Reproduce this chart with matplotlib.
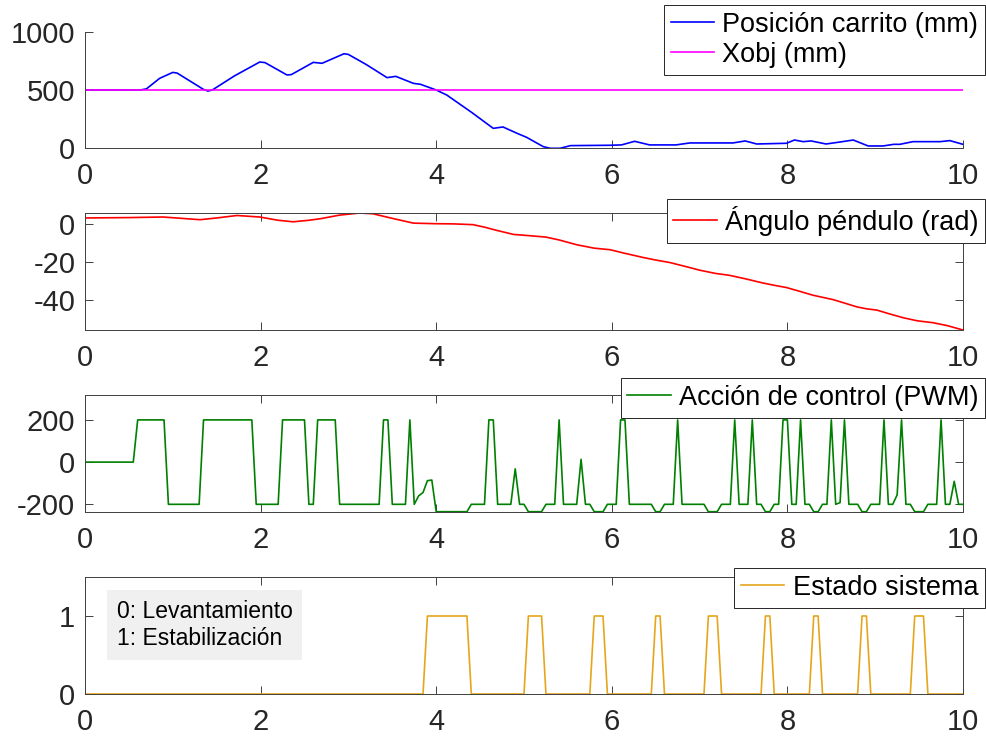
import matplotlib.pyplot as plt

plt.rcParams['font.family'] = ['Liberation Sans', 'DejaVu Sans']
plt.rcParams['axes.unicode_minus'] = False

# Cart position (mm)
t_pos = [0, 0.63, 0.7, 0.85, 1.0, 1.05, 1.2, 1.35, 1.4, 1.45, 1.7, 1.99, 2.05, 2.30, 2.35,
         2.60, 2.70, 2.95, 3.0, 3.2, 3.44, 3.54, 3.74, 3.82, 4.0, 4.12, 4.4, 4.65, 4.76,
         4.92, 5.03, 5.22, 5.30, 5.41, 5.53, 5.98, 6.11, 6.26, 6.43, 6.73, 6.89, 7.38,
         7.52, 7.65, 7.99, 8.08, 8.18, 8.27, 8.44, 8.60, 8.75, 8.92, 9.09, 9.21, 9.28,
         9.43, 9.74, 9.85, 10.0]
pos = [500, 500, 510, 600, 651, 645, 575, 505, 491, 500, 620, 740, 735, 629, 632,
       737, 729, 811, 805, 720, 606, 617, 557, 549, 500, 457, 310, 171, 183,
       129, 94, 14, 0, 0, 23, 26, 29, 60, 29, 29, 46, 46,
       63, 37, 43, 71, 57, 63, 37, 54, 71, 20, 20, 34, 34,
       57, 57, 66, 34]
x_obj = 500

# Pendulum angle (rad)
t_ang = [0, 0.5, 0.89, 1.1, 1.31, 1.5, 1.73, 1.99, 2.2, 2.37, 2.55, 2.68, 2.9, 3.13, 3.28,
         3.5, 3.74, 4.0, 4.2, 4.42, 4.55, 4.69, 4.88, 5.07, 5.25, 5.40, 5.60, 5.80, 5.98,
         6.15, 6.36, 6.50, 6.66, 6.85, 7.0, 7.18, 7.34, 7.52, 7.72, 7.86, 7.99, 8.15,
         8.29, 8.40, 8.52, 8.65, 8.79, 8.90, 9.02, 9.15, 9.32, 9.48, 9.66, 9.82, 10.0]
ang = [3.0, 3.2, 3.5, 2.8, 2.1, 3.0, 4.3, 3.5, 1.8, 1.0, 1.8, 2.6, 4.5, 5.6, 5.2,
       2.8, 0.3, 0.0, -0.1, -0.5, -1.8, -3.5, -5.6, -6.3, -7.0, -8.5, -11.0, -12.8, -13.6,
       -15.5, -17.7, -19.0, -20.3, -22.5, -24.3, -26.0, -27.0, -28.8, -31.0, -32.3, -33.4, -35.5,
       -37.4, -38.5, -39.7, -41.5, -43.5, -44.5, -45.2, -47.0, -49.2, -50.8, -51.8, -53.3, -55.6]

# Control action (PWM), 14 samples per row
t_pwm = [0, 0.55, 0.60, 0.90, 0.95, 1.30, 1.35, 1.90, 1.95, 2.20, 2.25, 2.50, 2.55, 2.60,
         2.65, 2.85, 2.90, 3.35, 3.40, 3.45, 3.50, 3.65, 3.70, 3.75, 3.80, 3.85, 3.90, 3.95,
         4.00, 4.35, 4.40, 4.55, 4.60, 4.65, 4.70, 4.85, 4.90, 4.95, 5.00, 5.05, 5.20, 5.25,
         5.35, 5.40, 5.45, 5.60, 5.65, 5.70, 5.75, 5.80, 5.90, 5.95, 6.05, 6.10, 6.15, 6.20,
         6.45, 6.50, 6.55, 6.60, 6.70, 6.75, 6.80, 7.00, 7.05, 7.10, 7.20, 7.25, 7.35, 7.40,
         7.45, 7.55, 7.60, 7.65, 7.70, 7.75, 7.80, 7.85, 7.90, 7.95, 8.00, 8.05, 8.10, 8.15,
         8.20, 8.25, 8.30, 8.35, 8.40, 8.45, 8.50, 8.55, 8.60, 8.65, 8.70, 8.80, 8.85, 8.90,
         8.95, 9.05, 9.10, 9.15, 9.20, 9.25, 9.30, 9.35, 9.40, 9.45, 9.55, 9.60, 9.70, 9.75,
         9.80, 9.85, 9.90, 9.95, 10.0]
pwm = [0, 0, 200, 200, -200, -200, 200, 200, -200, -200, 200, 200, -200, -200,
       200, 200, -200, -200, 200, 200, -200, -200, 200, -200, -160, -144, -88, -85,
       -235, -235, -200, -200, 200, 200, -200, -200, -32, -200, -200, -235, -235, -200,
       -200, 200, -200, -200, 13, -200, -200, -235, -235, -200, -200, 200, 200, -200,
       -200, -235, -235, -200, -200, 200, -200, -200, -200, -235, -235, -200, -200, 200,
       -200, -200, 200, -200, -200, -235, -235, -200, -200, 200, 200, -200, -200, 200,
       -200, -200, -235, -235, -200, -200, 200, -200, -192, 200, -200, -200, -235, -235,
       -200, -200, 200, -200, -200, -155, 200, -200, -200, -235, -235, -200, -200, 200,
       -200, -200, -91, -200, -200]

# System state (0 = swing-up, 1 = stabilisation)
t_est = [0, 3.85, 3.90, 4.35, 4.40, 5.00, 5.05, 5.20, 5.25, 5.75, 5.80, 5.90, 5.95,
         6.45, 6.50, 6.55, 6.60, 7.05, 7.10, 7.20, 7.25, 7.70, 7.75, 7.80, 7.85,
         8.25, 8.30, 8.35, 8.40, 8.80, 8.85, 8.90, 8.95, 9.40, 9.45, 9.55, 9.60, 10.0]
estado = [0, 0, 1, 1, 0, 0, 1, 1, 0, 0, 1, 1, 0,
          0, 1, 1, 0, 0, 1, 1, 0, 0, 1, 1, 0,
          0, 1, 1, 0, 0, 1, 1, 0, 0, 1, 1, 0, 0]

W, H = 987, 742
fig = plt.figure(figsize=(W / 100, H / 100), dpi=100)

tops = [31.7, 213, 395, 577]
bots = [148.3, 330, 511.7, 694]
axes = []
for top, bot in zip(tops, bots):
    ax = fig.add_axes([85 / W, 1 - bot / H, 878 / W, (bot - top) / H])
    axes.append(ax)

ax1, ax2, ax3, ax4 = axes

ax1.plot(t_pos, pos, color='blue', lw=1.2, label='Posición carrito (mm)')
ax1.plot([0, 10], [x_obj, x_obj], color='magenta', lw=1.2, label='Xobj (mm)')
ax1.set_ylim(0, 1000)
ax1.set_yticks([0, 500, 1000])

ax2.plot(t_ang, ang, color='red', lw=1.2, label='Ángulo péndulo (rad)')
ax2.set_ylim(-55.6, 5.6)
ax2.set_yticks([-40, -20, 0])

ax3.plot(t_pwm, pwm, color=(0, 0.5, 0), lw=1.2, label='Acción de control (PWM)')
ax3.set_ylim(-235, 318)
ax3.set_yticks([-200, 0, 200])

ax4.plot(t_est, estado, color='#E6A61C', lw=1.2, label='Estado sistema')
ax4.set_ylim(0, 1.5)
ax4.set_yticks([0, 1])
ax4.text(0.036, 0.59, '0: Levantamiento\n1: Estabilización', transform=ax4.transAxes,
         fontsize=16.5, ha='left', va='center', linespacing=1.25, color='black',
         bbox=dict(facecolor='0.94', edgecolor='none', pad=7))

legend_tops = [5, 199, 378, 568]
for i, ax in enumerate(axes):
    ax.set_xlim(0, 10)
    ax.set_xticks([0, 2, 4, 6, 8, 10])
    box = i > 0
    for side in ['top', 'right']:
        ax.spines[side].set_visible(box)
    for sp in ax.spines.values():
        sp.set_color('0.25')
        sp.set_linewidth(0.7)
    ax.tick_params(direction='in', length=6, width=0.7, color='0.25',
                   labelsize=21, labelcolor='0.15', pad=7,
                   top=box, right=box)
    ax.tick_params(axis='x', pad=10)
    leg = ax.legend(loc='upper right', bbox_to_anchor=(985 / W, 1 - legend_tops[i] / H),
                    bbox_transform=fig.transFigure, borderaxespad=0, fontsize=19.5,
                    fancybox=False, framealpha=1, edgecolor='0.15',
                    handlelength=1.6, handletextpad=0.3, labelspacing=0.15,
                    borderpad=0.25)
    leg.get_frame().set_linewidth(0.7)

plt.savefig('out.png', dpi=100)
